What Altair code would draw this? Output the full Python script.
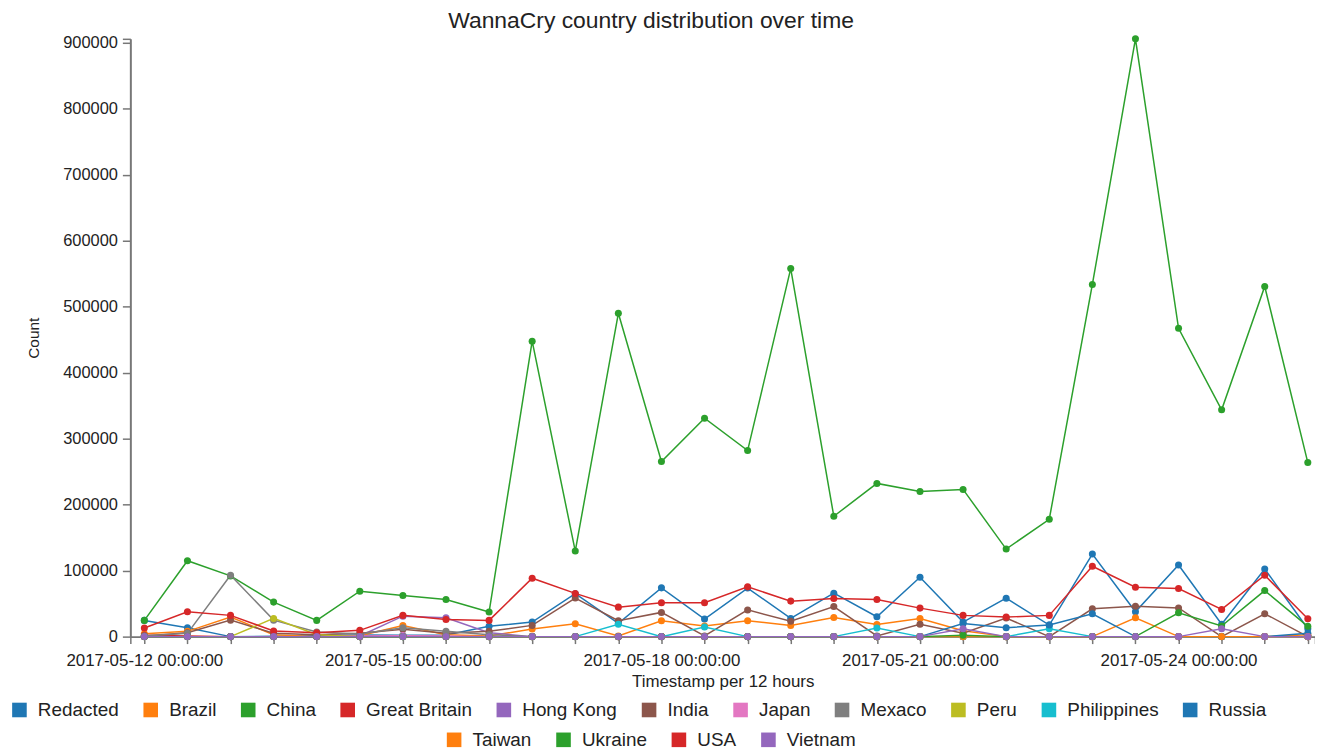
import altair as alt
import pandas as pd

# ---------------- data ----------------
countries = ["Redacted", "Brazil", "China", "Great Britain", "Hong Kong", "India",
             "Japan", "Mexaco", "Peru", "Philippines", "Russia", "Taiwan",
             "Ukraine", "USA", "Vietnam"]
palette = ["#1f77b4", "#ff7f0e", "#2ca02c", "#d62728", "#9467bd", "#8c564b",
           "#e377c2", "#7f7f7f", "#bcbd22", "#17becf", "#1f77b4", "#ff7f0e",
           "#2ca02c", "#d62728", "#9467bd"]

start = "2017-05-12 00:00:00"
n_steps = 28  # 12-hour buckets

redacted = [24600, 13600, 0, 500, 1500, 2500, 2000, 2500, 15600, 22100, 65000, 20100,
            73900, 26600, 73600, 27600, 65800, 30100, 90000, 22100, 58300, 17500,
            125100, 37700, 108500, 18800, 102500, 12000]
brazil = [4500, 8000, 29600, 3000, 0, 1500, 17000, 3000, 1000, 11500, 19600, 1000,
          24100, 16100, 24100, 17000, 29100, 18300, 27600, 9000, 0, 0,
          0, 28600, 0, 0, 0, 3000]
china = [24600, 115000, 92000, 52300, 24600, 68900, 62300, 56300, 37200, 447800, 129700, 490000,
         265300, 331000, 282000, 557800, 182400, 232200, 220100, 223100, 132700, 177900,
         533700, 906000, 467300, 343700, 530700, 263800]
great_britain = [2000, 1000, 0, 0, 0, 0, 1000, 0, 0, 0, 0, 0,
                 0, 0, 0, 0, 0, 0, 0, 0, 0, 0,
                 0, 0, 0, 0, 0, 0]
hong_kong = [0, 0, 0, 0, 0, 1000, 31000, 28600, 6000, 0, 0, 0,
             0, 0, 0, 0, 0, 0, 0, 0, 0, 0,
             0, 0, 0, 0, 0, 0]
india = [1000, 6000, 25000, 5000, 3000, 5000, 11000, 5000, 8000, 17000, 58500, 24100,
         36700, 1000, 40500, 23300, 45500, 1000, 18800, 5000, 28300, 0,
         42200, 46000, 43500, 0, 34700, 0]
japan = [0, 0, 0, 0, 0, 1000, 1500, 1000, 0, 0, 0, 0,
         0, 0, 0, 0, 0, 0, 0, 0, 0, 0,
         0, 0, 0, 0, 0, 0]
mexaco = [1000, 5000, 93000, 25000, 7000, 4000, 13600, 8000, 3000, 0, 0, 0,
          0, 0, 0, 0, 0, 0, 0, 0, 0, 0,
          0, 0, 0, 0, 0, 0]
peru = [0, 0, 0, 27600, 3000, 0, 0, 0, 0, 0, 0, 0,
        0, 0, 0, 0, 0, 0, 0, 0, 0, 0,
        0, 0, 0, 0, 0, 0]
philippines = [0, 0, 0, 0, 0, 0, 0, 0, 0, 0, 0, 18600,
               0, 14600, 0, 0, 0, 13100, 0, 0, 0, 12000,
               0, 0, 0, 0, 0, 0]
russia = [0, 0, 0, 0, 0, 0, 0, 0, 0, 0, 0, 0,
          0, 0, 0, 0, 0, 0, 0, 20000, 13600, 17500,
          34700, 0, 0, 0, 0, 5000]
taiwan = [0, 0, 0, 0, 0, 0, 0, 0, 0, 0, 0, 0,
          0, 0, 0, 0, 0, 0, 0, 0, 0, 0,
          0, 0, 0, 0, 0, 0]
ukraine = [0, 0, 0, 0, 0, 0, 0, 0, 0, 0, 0, 0,
           0, 0, 0, 0, 0, 0, 0, 2000, 0, 0,
           0, 0, 36200, 16100, 69800, 15600]
usa = [13100, 37700, 32200, 8500, 6000, 9500, 32200, 26100, 24600, 88500, 65500, 44700,
       51300, 51300, 75400, 53800, 57800, 56300, 43200, 32200, 29600, 32200,
       106600, 74900, 72900, 41200, 93000, 27100]
vietnam = [0, 0, 0, 0, 0, 0, 0, 0, 0, 0, 0, 0,
           0, 0, 0, 0, 0, 0, 0, 12000, 0, 0,
           0, 0, 0, 12000, 0, 0]

series = [redacted, brazil, china, great_britain, hong_kong, india, japan, mexaco,
          peru, philippines, russia, taiwan, ukraine, usa, vietnam]

y_ticks = [0, 100000, 200000, 300000, 400000, 500000, 600000, 700000, 800000, 900000]

# ---------------- build table ----------------
times = pd.date_range(start, periods=n_steps, freq="12h")
ms = [int(t.value // 10**6) for t in times]
rows = []
for order, (name, vals) in enumerate(zip(countries, series)):
    for t, v in zip(ms, vals):
        rows.append({"t": t, "Count": v, "Country": name, "order": order})
df = pd.DataFrame(rows)

HOUR = 3600 * 1000
x_lo = ms[0] - int(3.9 * HOUR)
x_hi = ms[-1] + int(2.0 * HOUR)
y_hi = 906000

FONT = "Liberation Sans"

x_enc = alt.X(
    "t:T",
    scale=alt.Scale(type="utc", domain=[x_lo, x_hi], nice=False),
    axis=alt.Axis(
        title="Timestamp per 12 hours",
        values=[x_lo] + ms + [x_hi],
        labelExpr="utchours(datum.value) == 0 && (utcdate(datum.value) - 12) % 3 == 0 ? utcFormat(datum.value, '%Y-%m-%d %H:%M:%S') : ''",
        labelOverlap=False,
        labelFlush=False,
        labelFontSize=17,
        labelPadding=9,
        tickSize=7,
        titleFontSize=17,
        titlePadding=5,
    ),
)
y_enc = alt.Y(
    "Count:Q",
    scale=alt.Scale(domain=[0, y_hi], nice=False, zero=True),
    axis=alt.Axis(
        title="Count",
        values=y_ticks + [y_hi],
        labelExpr="datum.value > 900000 ? '' : format(datum.value, 'd')",
        labelFontSize=16.5,
        labelPadding=5,
        tickSize=8,
        titleFontSize=15.5,
        titlePadding=21,
    ),
)

first = countries[:11]
second = countries[11:]


def layer(names, colors, lx, ly):
    return alt.Chart(df[df["Country"].isin(names)]).mark_line(
        strokeWidth=1.5,
        point=alt.OverlayMarkDef(filled=True, size=50, opacity=1),
    ).encode(
        x=x_enc,
        y=y_enc,
        order=alt.Order("t:Q"),
        detail="Country:N",
        color=alt.Color(
            "Country:N",
            scale=alt.Scale(domain=names, range=colors),
            sort=names,
            legend=alt.Legend(
                title=None,
                orient="none",
                direction="horizontal",
                legendX=lx,
                legendY=ly,
                symbolType="square",
                symbolSize=215,
                symbolStrokeWidth=0,
                labelFontSize=19,
                labelFont=FONT,
                labelColor="#222",
                labelOffset=9,
                columnPadding=22,
            ),
        ),
    )


chart = alt.layer(
    layer(first, palette[:11], -121, 665),
    layer(second, palette[11:], 316, 695),
).resolve_scale(color="independent").properties(
    width=1191,
    height=601,
    autosize=alt.AutoSizeParams(type="none"),
    padding={"left": 123, "top": 29, "right": 0, "bottom": 113},
    title=alt.TitleParams(
        "WannaCry country distribution over time",
        fontSize=23,
        font=FONT,
        fontWeight="normal",
        color="#222",
        anchor="middle",
        dx=-72,
        offset=2,
    ),
).configure_view(
    stroke=None
).configure_axis(
    grid=False,
    labelFont=FONT,
    titleFont=FONT,
    labelColor="#222",
    titleColor="#222",
    titleFontWeight="normal",
    domainColor="#777",
    domainWidth=2,
    tickColor="#777",
    tickWidth=1.5,
)

chart.save("out.html", embed_options={"renderer": "svg", "actions": False})
